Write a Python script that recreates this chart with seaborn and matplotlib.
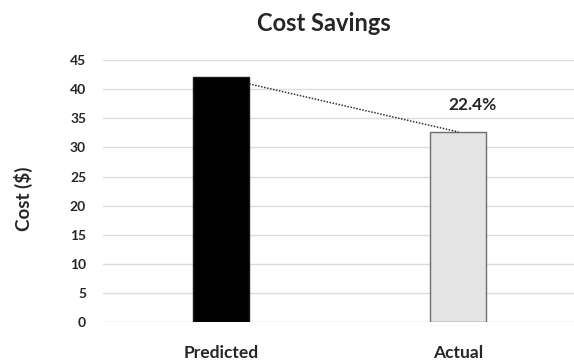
import matplotlib
matplotlib.use("Agg")
import matplotlib.pyplot as plt
import seaborn as sns
import pandas as pd

# Chart data
categories = ["Predicted", "Actual"]
costs = [42.1, 32.67]
savings_label = "22.4%"
y_ticks = [0, 5, 10, 15, 20, 25, 30, 35, 40, 45]

bar_fill = ["#000000", "#e4e4e4"]
bar_edge = ["#1a1a1a", "#6e6e6e"]
text_color = "#262626"

sns.set_theme(style="white")
plt.rcParams["font.family"] = ["Lato", "DejaVu Sans"]

df = pd.DataFrame({"category": categories, "cost": costs})

fig = plt.figure(figsize=(5.74, 3.63), dpi=100)
ax = fig.add_axes([0.179, 0.1116, 0.826, 0.7231])

sns.barplot(data=df, x="category", y="cost", hue="category",
            palette=bar_fill, width=0.235, legend=False, ax=ax,
            linewidth=1.0, saturation=1)
for patch, ec in zip(ax.patches, bar_edge):
    patch.set_edgecolor(ec)
    patch.set_zorder(3)

# dotted connector from the predicted bar to the actual bar
w = 0.235
ax.plot([0 + w / 2, 1.0], [40.9, costs[1]], linestyle=(0, (1, 1)),
        color="#333333", linewidth=1.1, zorder=4)

ax.text(1.06, 37.3, savings_label, ha="center", va="center",
        fontsize=12.5, fontweight="bold", color=text_color)

ax.set_ylim(0, 45)
ax.set_xlim(-0.5, 1.5)
ax.set_yticks(y_ticks)
ax.yaxis.grid(True, color="#dcdcdc", linewidth=1.0, zorder=0)
ax.set_axisbelow(True)
for s in ax.spines.values():
    s.set_visible(False)
ax.tick_params(axis="both", length=0)
ax.tick_params(axis="y", labelsize=10, labelcolor=text_color, pad=12)
ax.tick_params(axis="x", labelsize=12.5, labelcolor=text_color, pad=16)
for lbl in ax.get_xticklabels() + ax.get_yticklabels():
    lbl.set_fontweight("bold")

ax.set_xlabel("")
ax.set_ylabel("Cost ($)", fontsize=13.5, fontweight="bold", color=text_color)
ax.yaxis.set_label_coords(-0.148, 0.47)
fig.text(0.565, 0.935, "Cost Savings", ha="center", va="center",
         fontsize=17, fontweight="bold", color=text_color)

fig.savefig("out.png", dpi=100, facecolor="white")
